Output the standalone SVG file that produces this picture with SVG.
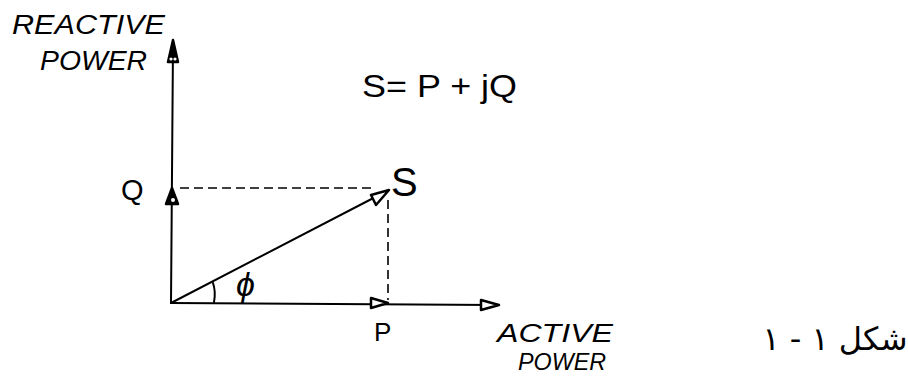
<svg xmlns="http://www.w3.org/2000/svg" width="908" height="376" viewBox="0 0 908 376">
<style>
.ax{stroke:#000;stroke-width:2;fill:none;stroke-linecap:round}
.dash{stroke:#000;stroke-width:1.6;fill:none;stroke-dasharray:9 5}
.head{fill:#fff;stroke:#000;stroke-width:2.5;stroke-linejoin:round}
.lbl{font-family:"Liberation Sans","DejaVu Sans",sans-serif;font-style:italic;fill:#000}
.sym{font-family:"Liberation Sans","DejaVu Sans",sans-serif;fill:#000}
</style>
<rect width="908" height="376" fill="#fff"/>
<g id="connectors">
  <line class="ax" x1="171" y1="303" x2="173" y2="45"/>
  <line class="ax" x1="171" y1="303" x2="495" y2="305"/>
  <line class="ax" x1="171" y1="303" x2="385" y2="192"/>
  <line class="dash" x1="180" y1="188" x2="374" y2="188"/>
  <line class="dash" x1="388" y1="200" x2="388" y2="300"/>
  <path class="ax" d="M213,283 Q216,292 214,302"/>
</g>
<g id="arrowheads">
  <polygon class="head" points="173,40 168,62 178,62" style="fill:#000"/>
  <circle cx="171" cy="59" r="1.6" fill="#fff"/><circle cx="175" cy="59" r="1.6" fill="#fff"/>
  <polygon class="head" points="172,188 166,204 178,204" style="fill:#000"/>
  <circle cx="173" cy="200" r="2" fill="#fff"/>
  <polygon class="head" points="389,190 371,195 376,205"/>
  <polygon class="head" points="388,303 371,298 371,308"/>
  <polygon class="head" points="499,305 481,300 481,310"/>
</g>
<g id="reactive-label">
  <text class="lbl" x="12" y="34" font-size="27" textLength="153" lengthAdjust="spacingAndGlyphs">REACTIVE</text>
  <text class="lbl" x="40" y="70" font-size="27" textLength="107" lengthAdjust="spacingAndGlyphs">POWER</text>
</g>
<g id="active-label">
  <text class="lbl" x="497" y="342" font-size="26" textLength="116" lengthAdjust="spacingAndGlyphs">ACTIVE</text>
  <text class="lbl" x="518" y="370" font-size="24" textLength="88" lengthAdjust="spacingAndGlyphs">POWER</text>
</g>
<g id="equation">
  <text class="sym" x="362" y="97" font-size="31" textLength="155" lengthAdjust="spacingAndGlyphs">S= P + jQ</text>
</g>
<g id="node-Q"><text class="sym" x="121" y="200" font-size="29">Q</text></g>
<g id="node-S"><text class="sym" x="391" y="196" font-size="40">S</text></g>
<g id="node-P"><text class="sym" x="374" y="341" font-size="26">P</text></g>
<g id="phi"><text class="sym" x="236" y="296" font-size="34" font-style="italic">ϕ</text></g>
<g id="caption">
  <text x="835" y="350" font-size="32" text-anchor="middle" direction="rtl" font-family="'DejaVu Sans','Noto Sans',sans-serif" fill="#000">شكل ١ - ١</text>
</g>
</svg>
